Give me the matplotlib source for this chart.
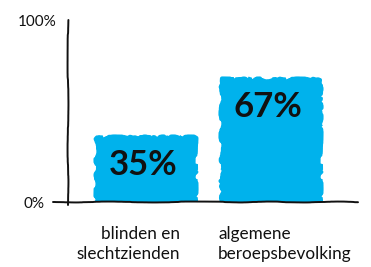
import matplotlib
matplotlib.use("Agg")
import matplotlib.pyplot as plt
import numpy as np

categories = ["blinden en\nslechtzienden", "algemene\nberoepsbevolking"]
values = [35, 67]
value_labels = ["35%", "67%"]
ytick_values = [0, 100]
ytick_labels = ["0%", "100%"]

BLUE = "#00B2EC"
INK = "#111111"

plt.rcParams["font.family"] = ["Lato", "DejaVu Sans"]

fig = plt.figure(figsize=(3.71, 2.67), dpi=100)
ax = fig.add_axes([68/371, 65/267, (358-68)/371, 182/267])

x = np.arange(len(categories))
# filled bars with hand-drawn look
bars = ax.bar(x, values, width=0.78, color=BLUE, edgecolor=BLUE, linewidth=3,
              joinstyle="round", zorder=2)
for b in bars:
    b.set_sketch_params(scale=1.5, length=90, randomness=30)
bars2 = ax.bar(x, values, width=0.76, color="none", edgecolor=BLUE, linewidth=2.5, zorder=2)
for b in bars2:
    b.set_sketch_params(scale=1.8, length=70, randomness=40)

for xi, v, lab in zip(x, values, value_labels):
    ax.annotate(lab, xy=(xi, v), xytext=(-2, -8), textcoords="offset points",
                ha="center", va="top", fontsize=25, fontweight="bold", color=INK, zorder=3)

ax.set_xlim(-0.624, 1.696)
ax.set_ylim(0, 100)

for s in ax.spines.values():
    s.set_visible(False)

# hand-drawn axes
yl, = ax.plot([0, 0], [-0.015, 1.0], transform=ax.transAxes, color=INK, lw=1.4,
              clip_on=False, zorder=4, solid_capstyle="round")
yl.set_sketch_params(scale=0.45, length=220, randomness=15)
xl, = ax.plot([-0.052, 1.0], [0, 0], transform=ax.get_yaxis_transform(), color=INK, lw=1.4,
              clip_on=False, zorder=4, solid_capstyle="round")
xl.set_sketch_params(scale=0.45, length=220, randomness=15)

ax.set_yticks(ytick_values)
ax.set_yticklabels(ytick_labels, fontsize=11, color=INK)
ax.tick_params(axis="y", length=0)
ticks = ax.yaxis.get_major_ticks()
ticks[0].set_pad(17)
ticks[1].set_pad(8)

ax.set_xticks([])
offsets = [(24.5, "right"), (-38, "left")]
for xi, cat, (dx, ha) in zip(x, categories, offsets):
    ax.annotate(cat, xy=(xi, 0), xycoords=ax.get_xaxis_transform(),
                xytext=(dx, -17), textcoords="offset points",
                ha=ha, va="top", multialignment=ha, fontsize=12.3, color=INK,
                linespacing=1.3, annotation_clip=False)

fig.savefig("out.png", dpi=100)
